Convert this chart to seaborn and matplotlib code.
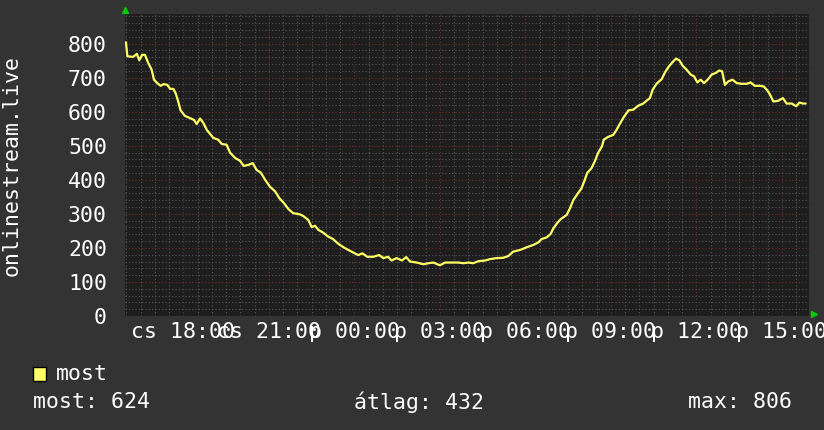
import matplotlib
matplotlib.use("Agg")
import matplotlib.pyplot as plt
import matplotlib.dates as mdates
from matplotlib.patches import Rectangle
import seaborn as sns
import pandas as pd

# readings taken off the graph (cs = Thursday, p = Friday)
times = ["15:59", "16:02", "16:14", "16:22", "16:27", "16:33", "16:39", "16:46", "16:53", "16:58",
         "17:05", "17:12", "17:18", "17:26", "17:32", "17:39", "17:44", "17:49", "17:54", "18:03",
         "18:14", "18:22", "18:28", "18:35", "18:42", "18:49", "18:56", "19:03", "19:13", "19:21",
         "19:31", "19:38", "19:49", "19:59", "20:07", "20:17", "20:26", "20:34", "20:43", "20:52",
         "21:02", "21:13", "21:22", "21:32", "21:41", "21:51", "22:04", "22:12", "22:23", "22:30",
         "22:37", "22:44", "22:54", "23:05", "23:15", "23:26", "23:37", "23:47", "23:58", "00:08",
         "00:17", "00:27", "00:40", "00:52", "01:01", "01:11", "01:18", "01:29", "01:40", "01:49",
         "01:57", "02:11", "02:25", "02:36", "02:46", "03:00", "03:11", "03:25", "03:39", "03:49",
         "04:00", "04:10", "04:21", "04:35", "04:45", "04:59", "05:13", "05:24", "05:34", "05:49",
         "06:03", "06:17", "06:27", "06:34", "06:45", "06:53", "06:59", "07:07", "07:14", "07:27",
         "07:34", "07:41", "07:51", "07:58", "08:05", "08:10", "08:19", "08:26", "08:33", "08:41",
         "08:45", "08:54", "09:05", "09:12", "09:19", "09:27", "09:37", "09:47", "09:58", "10:08",
         "10:22", "10:28", "10:36", "10:47", "10:54", "11:01", "11:08", "11:17", "11:24", "11:31",
         "11:39", "11:48", "11:55", "12:02", "12:09", "12:16", "12:25", "12:32", "12:41", "12:48",
         "12:54", "13:00", "13:07", "13:16", "13:25", "13:35", "13:46", "13:54", "14:03", "14:14",
         "14:22", "14:29", "14:35", "14:42", "14:52", "15:02", "15:10", "15:21", "15:30", "15:37",
         "15:44", "15:50"]
users = [804, 763, 761, 770, 751, 767, 767, 743, 724, 694,
         684, 676, 681, 679, 667, 667, 653, 630, 604, 588,
         581, 576, 564, 580, 567, 547, 535, 523, 518, 505,
         503, 480, 464, 456, 441, 444, 449, 429, 421, 400,
         380, 366, 346, 331, 314, 302, 299, 294, 282, 261,
         265, 253, 245, 233, 226, 212, 202, 194, 186, 179,
         184, 174, 174, 179, 170, 174, 163, 170, 163, 173,
         160, 157, 152, 155, 157, 149, 157, 157, 157, 155,
         157, 155, 161, 163, 167, 170, 171, 176, 189, 194,
         202, 209, 216, 226, 231, 241, 258, 273, 284, 297,
         317, 341, 361, 375, 400, 420, 434, 454, 479, 498,
         518, 526, 532, 547, 565, 584, 604, 606, 618, 624,
         640, 665, 682, 696, 716, 731, 743, 756, 751, 735,
         724, 709, 704, 686, 694, 684, 696, 709, 714, 721,
         719, 679, 689, 694, 684, 682, 682, 686, 676, 676,
         674, 663, 650, 630, 632, 640, 624, 624, 616, 627,
         624, 624]

tick_times = ["18:00", "21:00", "00:00", "03:00", "06:00", "09:00", "12:00", "15:00"]
tick_labels = ["cs 18:00", "cs 21:00", "p 00:00", "p 03:00",
               "p 06:00", "p 09:00", "p 12:00", "p 15:00"]
y_ticks = [0, 100, 200, 300, 400, 500, 600, 700, 800]

series_name = "most"
stat_names = ["most", "átlag", "max"]
stat_values = [624, 432, 806]
y_title = "onlinestream.live"


def stamps(hhmm, start="2024-01-04"):
    # turn clock times into timestamps, rolling over midnight
    day = pd.Timestamp(start)
    out = []
    prev = None
    for s in hhmm:
        t = pd.Timestamp(f"{day.date()} {s}")
        if prev is not None and t < prev:
            day += pd.Timedelta(days=1)
            t += pd.Timedelta(days=1)
        out.append(t)
        prev = t
    return out


df = pd.DataFrame({"time": stamps(times), "users": users})
tick_pos = stamps(["15:00"] + tick_times)[1:]

sns.set_style("dark")
plt.rcParams["font.family"] = ["DejaVu Sans Mono", "DejaVu Sans"]

bg = "#333333"
plot_bg = "#1e1e1e"
line_col = "#ffff66"
fs = 15.5

fig = plt.figure(figsize=(8.24, 4.30), dpi=100, facecolor=bg)
ax = fig.add_axes([125 / 824, 1 - 316 / 430, 684 / 824, 302 / 430])
ax.set_facecolor(plot_bg)

sns.lineplot(data=df, x="time", y="users", ax=ax, color=line_col, linewidth=1.6)

ax.set_xlim(pd.Timestamp("2024-01-04 15:57"), pd.Timestamp("2024-01-05 15:57"))
ax.set_ylim(0, 887)

ax.set_xticks(tick_pos)
ax.set_xticklabels(tick_labels)
ax.xaxis.set_minor_locator(mdates.MinuteLocator(byminute=[0, 30]))
ax.set_yticks(y_ticks)
ax.set_yticks(range(0, 881, 20), minor=True)

ax.grid(which="minor", color="#565656", linestyle=(0, (1, 2)), linewidth=0.8)
ax.grid(which="major", color="#6e2b2b", linestyle=(0, (1, 2)), linewidth=0.8)
ax.set_axisbelow(True)

ax.tick_params(which="both", length=0, colors="white", labelsize=fs)
ax.tick_params(axis="y", pad=13)
ax.tick_params(axis="x", pad=4)
ax.set_xlabel("")
ax.set_ylabel("")
for sp in ax.spines.values():
    sp.set_visible(False)

# small green arrows at the axis ends
ax.plot([0], [1.012], marker="^", color="#00cc00", markersize=5,
        transform=ax.transAxes, clip_on=False)
ax.plot([1.007], [0.006], marker=">", color="#00cc00", markersize=5,
        transform=ax.transAxes, clip_on=False)

fig.text(12 / 824, 1 - 165 / 430, y_title, rotation=90, color="white",
         fontsize=fs, ha="center", va="center")

# legend and summary line
fig.patches.append(Rectangle((33 / 824, 1 - 381 / 430), 13 / 824, 14 / 430,
                             transform=fig.transFigure, facecolor=line_col,
                             edgecolor="black", linewidth=1))
fig.text(56 / 824, 1 - 374 / 430, series_name, color="white", fontsize=fs,
         ha="left", va="center")
stat_x = [33, 354, 688]
for x, name, val in zip(stat_x, stat_names, stat_values):
    fig.text(x / 824, 1 - 402 / 430, f"{name}: {val}", color="white",
             fontsize=fs, ha="left", va="center")

fig.savefig("out.png", dpi=100, facecolor=bg)
